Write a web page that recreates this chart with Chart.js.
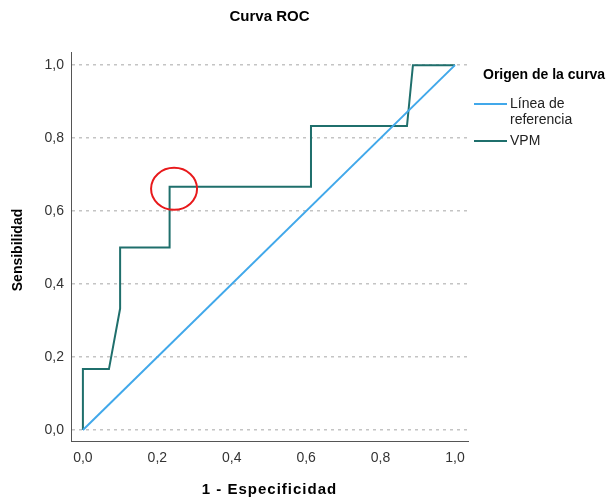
<!DOCTYPE html>
<html>
<head>
<meta charset="utf-8">
<title>Curva ROC</title>
<script src="https://cdn.jsdelivr.net/npm/chart.js@4"></script>
<style>
    body { margin: 0; background: #fff; }
    canvas { display: block; }
</style>
</head>
<body>
<canvas id="rocChart" width="614" height="500"></canvas>
<script>
// Data
const refFpr = [0, 1];
const refTpr = [0, 1];
const rocFpr = [0, 0, 0.07, 0.1, 0.1, 0.233, 0.233, 0.613, 0.613, 0.871, 0.887, 1];
const rocTpr = [0, 0.167, 0.167, 0.333, 0.5, 0.5, 0.667, 0.667, 0.833, 0.833, 1, 1];
const axisTicks = [0, 0.2, 0.4, 0.6, 0.8, 1];
const refLabel = ['Línea de', 'referencia'];
const rocLabel = ['VPM'];
const chartTitle = 'Curva ROC';
const xTitle = '1 - Especificidad';
const yTitle = 'Sensibilidad';
const legendTitle = 'Origen de la curva';
// red circle drawn on the chart (data coords of its centre)
const markCenter = { x: 0.245, y: 0.661 };

const REF_COLOR = '#41a8ea';
const ROC_COLOR = '#1f6f6c';
const FONT = "'Liberation Sans', Arial, sans-serif";

Chart.defaults.font.family = FONT;

const toPoints = (xs, ys) => xs.map((x, i) => ({ x: x, y: ys[i] }));
const fmt = v => v.toFixed(1).replace('.', ',');

// Titles, legend and the red circle
const decorations = {
    id: 'decorations',
    afterDraw(chart) {
        const ctx = chart.ctx;
        const area = chart.chartArea;
        const midX = (area.left + area.right) / 2;
        ctx.save();
        ctx.fillStyle = '#000';
        ctx.textBaseline = 'middle';

        ctx.font = 'bold 15px ' + FONT;
        ctx.textAlign = 'center';
        ctx.fillText(chartTitle, midX, 17);

        ctx.font = 'bold 15px ' + FONT;
        ctx.letterSpacing = '1px';
        ctx.fillText(xTitle, midX, 490);
        ctx.letterSpacing = '0px';

        ctx.save();
        ctx.translate(18, 250);
        ctx.rotate(-Math.PI / 2);
        ctx.font = 'bold 14px ' + FONT;
        ctx.fillText(yTitle, 0, 0);
        ctx.restore();

        // legend
        ctx.textAlign = 'left';
        ctx.font = 'bold 14px ' + FONT;
        ctx.fillText(legendTitle, 483, 75);

        const items = [
            { color: REF_COLOR, lines: refLabel, y: 104 },
            { color: ROC_COLOR, lines: rocLabel, y: 141 }
        ];
        ctx.font = '14px ' + FONT;
        items.forEach(item => {
            ctx.strokeStyle = item.color;
            ctx.lineWidth = 2;
            ctx.beginPath();
            ctx.moveTo(474, item.y);
            ctx.lineTo(507, item.y);
            ctx.stroke();
            ctx.fillStyle = '#222';
            item.lines.forEach((t, i) => ctx.fillText(t, 510, item.y + i * 16));
        });

        // red circle
        const cx = chart.scales.x.getPixelForValue(markCenter.x);
        const cy = chart.scales.y.getPixelForValue(markCenter.y);
        ctx.strokeStyle = '#e8191b';
        ctx.lineWidth = 2;
        ctx.beginPath();
        ctx.ellipse(cx, cy, 23, 21, 0, 0, Math.PI * 2);
        ctx.stroke();

        ctx.restore();
    }
};

const rocChart = new Chart(document.getElementById('rocChart').getContext('2d'), {
    type: 'scatter',
    data: {
        datasets: [
            {
                label: refLabel.join(' '),
                data: toPoints(refFpr, refTpr),
                showLine: true,
                borderColor: REF_COLOR,
                borderWidth: 2,
                pointRadius: 0,
                tension: 0
            },
            {
                label: rocLabel[0],
                data: toPoints(rocFpr, rocTpr),
                showLine: true,
                borderColor: ROC_COLOR,
                borderWidth: 2,
                pointRadius: 0,
                tension: 0
            }
        ]
    },
    options: {
        responsive: false,
        animation: false,
        devicePixelRatio: 1,
        layout: {
            padding: { left: 0, top: 52, right: 146, bottom: 0 }
        },
        plugins: {
            legend: { display: false },
            tooltip: { enabled: false }
        },
        scales: {
            x: {
                type: 'linear',
                min: -0.032,
                max: 1.035,
                afterBuildTicks: scale => { scale.ticks = axisTicks.map(v => ({ value: v })); },
                afterFit: scale => { scale.height = 59; },
                grid: { display: false, drawTicks: false },
                border: { display: true, color: '#555', width: 1 },
                ticks: {
                    padding: 9,
                    color: '#333',
                    font: { size: 14 },
                    maxRotation: 0,
                    callback: v => fmt(v)
                }
            },
            y: {
                type: 'linear',
                min: -0.030,
                max: 1.036,
                afterBuildTicks: scale => { scale.ticks = axisTicks.map(v => ({ value: v })); },
                afterFit: scale => { scale.width = 71; },
                grid: {
                    display: true,
                    drawTicks: false,
                    color: '#c4c4c4',
                    lineWidth: 1.5
                },
                border: { display: true, color: '#555', width: 1, dash: [3, 4] },
                ticks: {
                    padding: 7,
                    color: '#333',
                    font: { size: 14 },
                    callback: v => fmt(v)
                }
            }
        }
    },
    plugins: [decorations]
});
</script>
</body>
</html>
